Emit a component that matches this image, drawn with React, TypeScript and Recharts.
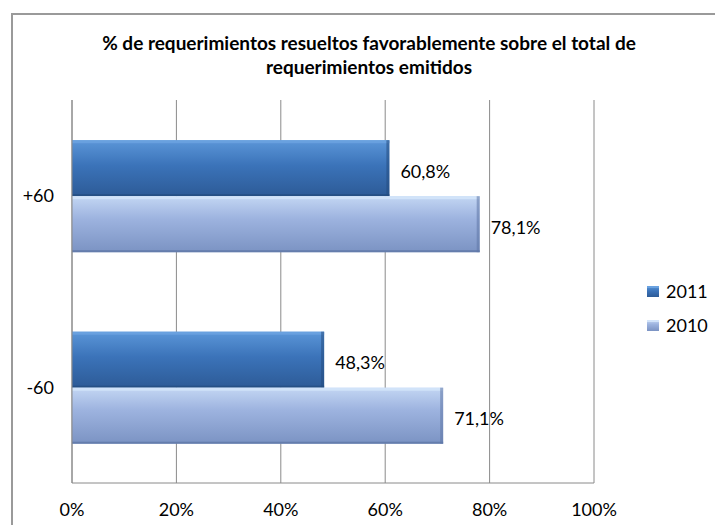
import React from "react";
import { BarChart, Bar, XAxis, YAxis, CartesianGrid, Legend, LabelList } from "recharts";

const categories = ["+60", "-60"];
const values2011 = [60.8, 48.3];
const values2010 = [78.1, 71.1];
const seriesNames = ["2011", "2010"];
const xTicks = [0, 20, 40, 60, 80, 100];

const FONT = "Lato, 'Open Sans', sans-serif";

const data = categories.map((name, i) => ({
  name,
  y2011: values2011[i],
  y2010: values2010[i],
}));

const styles: Record<string, { grad: string; top: string; bottom: string }> = {
  "2011": { grad: "url(#g2011)", top: "#6aa2e0", bottom: "#244d80" },
  "2010": { grad: "url(#g2010)", top: "#d3e4fa", bottom: "#5f77a6" },
};

const fmt = (v: any) => `${String(v).replace(".", ",")}%`;

function BevelBar(props: any) {
  const { x, y, width, height, series } = props;
  if (!width || width <= 0) return null;
  const s = styles[series];
  return (
    <g>
      <rect x={x} y={y} width={width} height={height} fill={s.grad} />
      <rect x={x} y={y} width={width} height={3} fill={s.top} opacity={0.9} />
      <rect x={x + width - 3} y={y} width={3} height={height} fill={s.bottom} opacity={0.55} />
      <rect x={x} y={y + height - 2} width={width} height={2} fill={s.bottom} opacity={0.8} />
    </g>
  );
}

function LegendBox() {
  return (
    <div style={{ width: 114, paddingLeft: 53, boxSizing: "border-box", fontFamily: FONT, fontSize: 18, color: "#000" }}>
      {seriesNames.map((n) => (
        <div key={n} style={{ display: "flex", alignItems: "center", height: 34 }}>
          <svg width={12} height={11} style={{ marginRight: 7 }}>
            <rect x={0} y={0} width={12} height={11} fill={styles[n].grad} />
            <rect x={0} y={0} width={12} height={2} fill={styles[n].top} />
          </svg>
          <span>{n}</span>
        </div>
      ))}
    </div>
  );
}

export default function App() {
  return (
    <div style={{ position: "fixed", left: 0, top: 0, width: 715, height: 525, overflow: "hidden", background: "#fff" }}>
      <svg width={0} height={0} style={{ position: "absolute" }}>
        <defs>
          <linearGradient id="g2011" x1="0" y1="0" x2="0" y2="1">
            <stop offset="0%" stopColor="#5b96d8" />
            <stop offset="45%" stopColor="#3b73b9" />
            <stop offset="100%" stopColor="#2d5b97" />
          </linearGradient>
          <linearGradient id="g2010" x1="0" y1="0" x2="0" y2="1">
            <stop offset="0%" stopColor="#c3d6f3" />
            <stop offset="40%" stopColor="#9db3df" />
            <stop offset="100%" stopColor="#7b93c3" />
          </linearGradient>
        </defs>
      </svg>
      <div
        style={{
          position: "absolute",
          left: 11,
          top: 13,
          width: 800,
          height: 600,
          border: "2px solid #9a9a9a",
        }}
      />
      <div
        style={{
          position: "absolute",
          left: 69,
          width: 600,
          top: 31,
          textAlign: "center",
          fontFamily: FONT,
          fontWeight: "bold",
          fontSize: 19,
          lineHeight: "24px",
          color: "#000",
        }}
      >
        % de requerimientos resueltos favorablemente  sobre el total de
        <br />
        requerimientos emitidos
      </div>
      <div style={{ position: "absolute", left: 0, top: 0 }}>
        <BarChart
          width={715}
          height={525}
          data={data}
          layout="vertical"
          margin={{ top: 100, right: 7, left: 0, bottom: 0 }}
          barCategoryGap="21%"
          barGap={0}
        >
          <CartesianGrid horizontal={false} stroke="#8a8a8a" />
          <XAxis
            type="number"
            domain={[0, 100]}
            ticks={xTicks}
            tickFormatter={(v) => `${v}%`}
            height={42}
            axisLine={{ stroke: "#8a8a8a" }}
            tickLine={false}
            tickMargin={14}
            tick={{ fill: "#000", fontSize: 18, fontFamily: FONT }}
          />
          <YAxis
            type="category"
            dataKey="name"
            width={72}
            axisLine={{ stroke: "#8a8a8a" }}
            tickLine={false}
            tickMargin={12}
            tick={{ fill: "#000", fontSize: 18, fontFamily: FONT }}
          />
          <Legend
            layout="vertical"
            align="right"
            verticalAlign="middle"
            wrapperStyle={{ top: 274 }}
            content={() => <LegendBox />}
          />
          <Bar dataKey="y2011" name="2011" isAnimationActive={false} shape={(p: any) => <BevelBar {...p} series="2011" />}>
            <LabelList dataKey="y2011" position="right" offset={11} dy={3} formatter={fmt} style={{ fill: "#000", fontSize: 18, fontFamily: FONT }} />
          </Bar>
          <Bar dataKey="y2010" name="2010" isAnimationActive={false} shape={(p: any) => <BevelBar {...p} series="2010" />}>
            <LabelList dataKey="y2010" position="right" offset={11} dy={3} formatter={fmt} style={{ fill: "#000", fontSize: 18, fontFamily: FONT }} />
          </Bar>
        </BarChart>
      </div>
    </div>
  );
}
